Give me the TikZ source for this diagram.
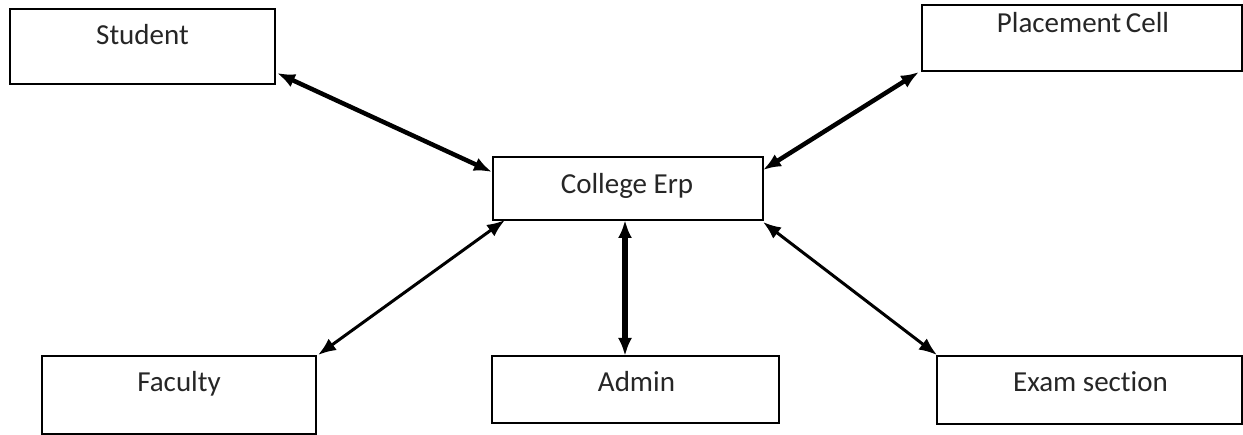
\documentclass[tikz,border=0pt]{standalone}
\usepackage{fontspec}
\setmainfont{Carlito}[Ligatures=NoCommon]
\usetikzlibrary{arrows.meta}
\tikzset{
  box/.style={draw=black, line width=1.6pt, fill=white, rectangle, inner sep=0pt, outer sep=0pt},
  lbl/.style={anchor=base, inner sep=0pt, font=\fontsize{29}{31}\selectfont, text=black!85},
  link/.style={line width=#1, {Latex[length=18pt,width=14pt]}-{Latex[length=18pt,width=14pt]}},
}
\begin{document}
\begin{tikzpicture}[x=1pt,y=-1pt]
\useasboundingbox (0,0) rectangle (1243,435);
% boxes
\node[box, minimum width=265pt, minimum height=75pt] (student) at (142.5,46.5) {};
\node[box, minimum width=320pt, minimum height=66pt] (placement) at (1082,38) {};
\node[box, minimum width=270pt, minimum height=63pt] (erp) at (628,188.5) {};
\node[box, minimum width=274pt, minimum height=78pt] (faculty) at (179,395) {};
\node[box, minimum width=287pt, minimum height=67pt] (admin) at (635.5,389.5) {};
\node[box, minimum width=305pt, minimum height=68pt] (exam) at (1089.5,390) {};
% labels
\node[lbl] (studentT) at ([shift={(0,36)}]student.north) {Student};
\node[lbl] (placementT) at ([shift={(1,28)}]placement.north) {Placement\kern-2pt\ Cell};
\node[lbl] (erpT) at ([shift={(-1,37)}]erp.north) {College Erp};
\node[lbl] (facultyT) at ([shift={(0,36)}]faculty.north) {Faculty};
\node[lbl] (adminT) at ([shift={(1,36)}]admin.north) {Admin};
\node[lbl] (examT) at ([shift={(1,36)}]exam.north) {Exam section};
% connectors
\coordinate (a1) at ([shift={(2,-11)}]student.south east);
\coordinate (a2) at ([shift={(-1,15)}]erp.north west);
\draw[link=4.5pt] (a1) -- (a2);
\coordinate (b1) at ([shift={(-3,1)}]placement.south west);
\coordinate (b2) at ([shift={(0,13)}]erp.north east);
\draw[link=4.5pt] (b1) -- (b2);
\coordinate (c1) at ([shift={(12,0)}]erp.south west);
\coordinate (c2) at ([shift={(2,-1)}]faculty.north east);
\draw[link=3pt] (c1) -- (c2);
\coordinate (d1) at ([shift={(-3,0)}]erp.south);
\draw[link=5.5pt] (d1) -- (d1 |- admin.north);
\coordinate (e1) at ([shift={(0,2)}]erp.south east);
\coordinate (e2) at ([shift={(0,-1)}]exam.north west);
\draw[link=3pt] (e1) -- (e2);
\end{tikzpicture}
\end{document}
